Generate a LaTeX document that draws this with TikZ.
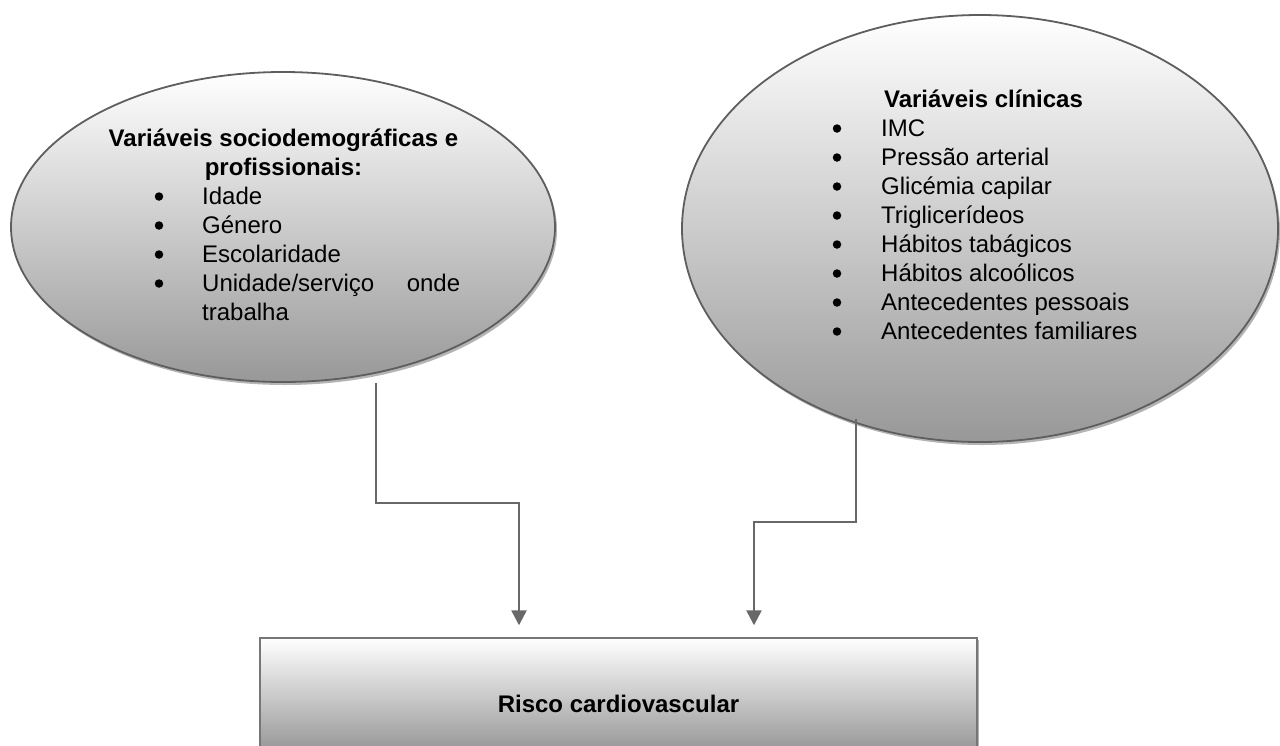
\documentclass[tikz,border=0pt]{standalone}
\usepackage{fontspec}
\setmainfont{Liberation Sans}
\usetikzlibrary{shapes.geometric,shadows,arrows.meta}
\definecolor{edgegray}{HTML}{5E5E5E}
\definecolor{shadegray}{HTML}{B4B4B4}
\definecolor{fillbottom}{HTML}{989898}
\definecolor{conngray}{HTML}{686868}
\tikzset{
  oval/.style={ellipse, inner sep=0pt, draw=edgegray, line width=1.8pt,
    top color=white, bottom color=fillbottom,
    drop shadow={shadow xshift=2pt, shadow yshift=-3pt, fill=shadegray, opacity=1}},
  riskbox/.style={rectangle, inner sep=0pt, draw=edgegray!85, line width=1.4pt,
    top color=white, bottom color=fillbottom,
    drop shadow={shadow xshift=1.5pt, shadow yshift=-2pt, fill=shadegray, opacity=1}},
  conn/.style={draw=conngray, line width=2.4pt,
    -{Triangle[width=15pt,length=15pt]}},
  titletxt/.style={anchor=base, inner sep=0pt, font=\fontsize{24}{29}\selectfont\bfseries},
  itemtxt/.style={anchor=base west, inner sep=0pt, font=\fontsize{24}{29}\selectfont},
  bul/.style={circle, fill=black, inner sep=0pt, minimum size=8.5pt},
}
\begin{document}
\begin{tikzpicture}[x=1pt,y=-1pt]
\useasboundingbox (0,0) rectangle (1280,745);

% ellipses
\node[oval, minimum width=544pt, minimum height=310pt] (soc) at (283,227) {};
\node[oval, minimum width=596pt, minimum height=427pt] (clin) at (980,228.5) {};

% result box
\node[riskbox, minimum width=717pt, minimum height=112pt] (risk) at (618.5,694) {};
\node[titletxt] (risktext) at (618.5,712) {Risco cardiovascular};

% left ellipse text
\node[titletxt] (st1) at (283.5,146) {Variáveis sociodemográficas e};
\node[titletxt] (st2) at (283.5,175) {profissionais:};
\foreach \txt [count=\i] in {Idade, Género, Escolaridade, {\hbox to 258pt{Unidade/serviço\hfill onde}}}{
  \node[bul] (sb\i) at (159,{175+29*\i-7.5}) {};
  \node[itemtxt] (si\i) at (202,{175+29*\i}) {\txt};
}
\node[itemtxt] (si5) at (202,320) {trabalha};

% right ellipse text
\node[titletxt] (ct1) at (983.5,107) {Variáveis clínicas};
\foreach \txt [count=\i] in {IMC, Pressão arterial, Glicémia capilar, Triglicerídeos,
  Hábitos tabágicos, Hábitos alcoólicos, Antecedentes pessoais, Antecedentes familiares}{
  \node[bul] (cb\i) at (837,{107+29*\i-7.5}) {};
  \node[itemtxt] (ci\i) at (881,{107+29*\i}) {\txt};
}

% connectors
\coordinate (sstart) at ([xshift=93pt]soc.south);
\coordinate (cstart) at ([xshift=-124pt,yshift=23.5pt]clin.south);
\coordinate (send) at ([xshift=-99.5pt,yshift=12pt]risk.north);
\coordinate (cend) at ([xshift=135.5pt,yshift=12pt]risk.north);
\draw[conn] (sstart) -- (sstart |- 0,503) -| (send);
\draw[conn] (cstart) -- (cstart |- 0,522) -| (cend);
\end{tikzpicture}
\end{document}
